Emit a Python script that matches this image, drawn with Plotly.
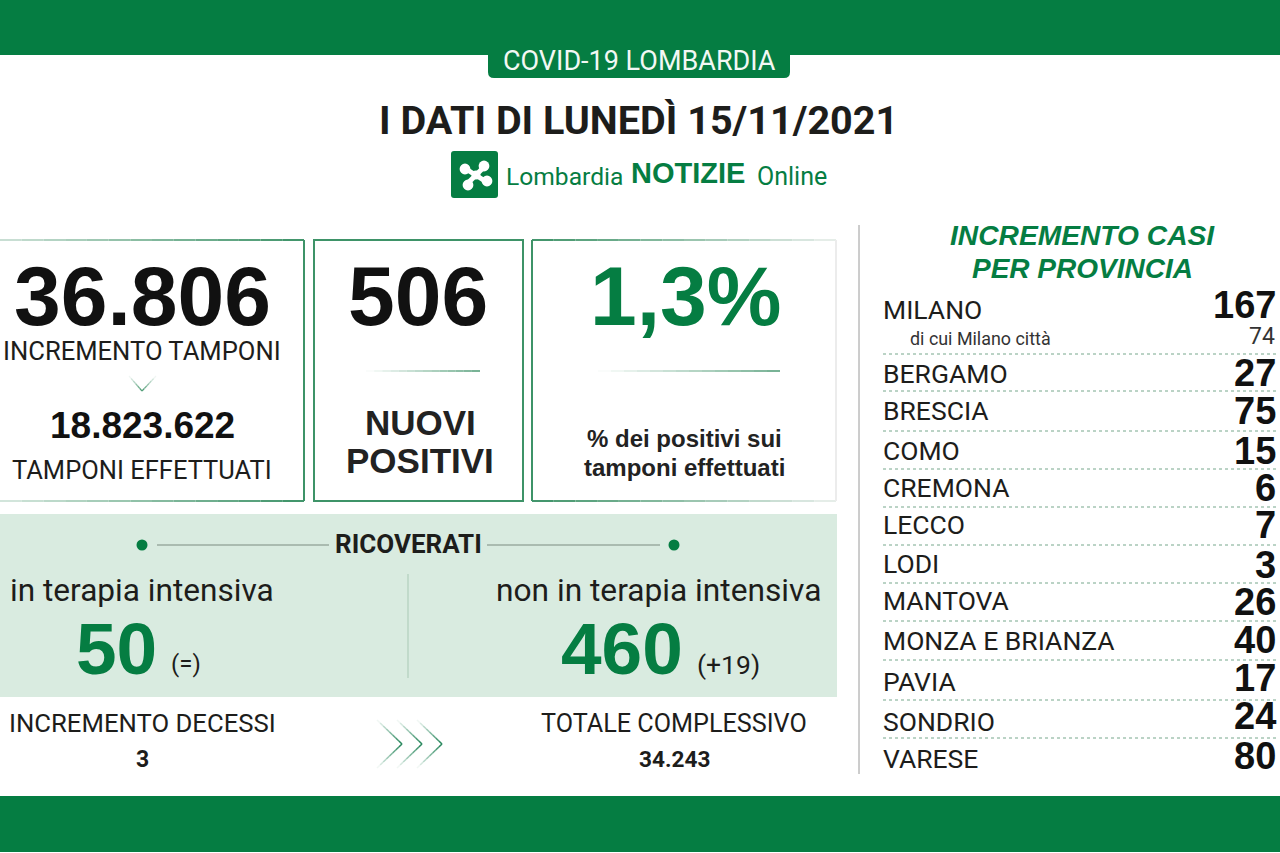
import plotly.graph_objects as go

GREEN = "#057d42"
TXT = "#1d1d1b"
PALE = "#d9ebe0"
SANS = "Liberation Sans"
NARROW = "Roboto"

# ---- data ----
provinces = ["MILANO", "BERGAMO", "BRESCIA", "COMO", "CREMONA", "LECCO", "LODI",
             "MANTOVA", "MONZA E BRIANZA", "PAVIA", "SONDRIO", "VARESE"]
province_cases = [167, 27, 75, 15, 6, 7, 3, 26, 40, 17, 24, 80]
milano_city_cases = 74
tamponi_increment = "36.806"
tamponi_total = "18.823.622"
new_positive = "506"
positive_share = "1,3%"
icu = "50"
icu_delta = "(=)"
non_icu = "460"
non_icu_delta = "(+19)"
deaths_increment = "3"
deaths_total = "34.243"

# row layout of the province list (pixel rows in the page)
province_label_y = [309, 373, 410, 450, 487, 524, 563, 600, 640, 681, 721, 758]
province_value_y = [305, 373, 411, 451, 488, 525, 565, 602, 640, 678, 716, 756]
separator_y = [354, 391, 431, 469, 507, 545, 583, 621, 660, 700, 738]

shapes, ann = [], []


def text(x, y, s, size, color=TXT, font=SANS, anchor="center", bold=False, italic=False):
    if bold:
        s = f"<b>{s}</b>"
    if italic:
        s = f"<i>{s}</i>"
    ann.append(dict(x=x, y=y, text=s, showarrow=False, xanchor=anchor, yanchor="middle",
                    xref="x", yref="y", align="center",
                    font=dict(family=font, size=size, color=color)))


def rect(x0, y0, x1, y1, fill=None, line=None, width=0):
    shapes.append(dict(type="rect", x0=x0, y0=y0, x1=x1, y1=y1, xref="x", yref="y",
                       fillcolor=fill or "rgba(0,0,0,0)", layer="below",
                       line=dict(color=line or "rgba(0,0,0,0)", width=width)))


def seg(x0, y0, x1, y1, color, width=1, dash=None):
    shapes.append(dict(type="line", x0=x0, y0=y0, x1=x1, y1=y1, xref="x", yref="y",
                       line=dict(color=color, width=width, dash=dash or "solid")))


def fade(x0, y0, x1, y1, c0, c1, width=1.5, n=14):
    """Line whose colour runs from c0 at its start to c1 at its end."""
    for i in range(n):
        t0, t1, tm = i / n, (i + 1) / n, (i + 0.5) / n
        rgb = [round(a + (b - a) * tm) for a, b in zip(c0, c1)]
        seg(x0 + (x1 - x0) * t0, y0 + (y1 - y0) * t0,
            x0 + (x1 - x0) * t1, y0 + (y1 - y0) * t1,
            f"rgb({rgb[0]},{rgb[1]},{rgb[2]})", width)


def dot(cx, cy, r, color):
    shapes.append(dict(type="circle", x0=cx - r, y0=cy - r, x1=cx + r, y1=cy + r,
                       xref="x", yref="y", fillcolor=color, line=dict(width=0)))


def path(d, fill=None, line=None, width=0):
    shapes.append(dict(type="path", path=d, xref="x", yref="y",
                       fillcolor=fill or "rgba(0,0,0,0)",
                       line=dict(color=line or "rgba(0,0,0,0)", width=width)))


BOX = (62, 147, 104)
RULE = (70, 150, 110)
WHITE = (255, 255, 255)
LIGHT = (235, 240, 237)

# bands
rect(0, 0, 1280, 55, GREEN)
rect(0, 796, 1280, 852, GREEN)
path("M 488 55 L 790 55 L 790 72 Q 790 78 784 78 L 494 78 Q 488 78 488 72 Z", GREEN)
text(639, 61, "COVID-19 LOMBARDIA", 27, "#f2f8f4", NARROW)

# title
text(638, 120, "I DATI DI LUNEDÌ 15/11/2021", 39.6, TXT, NARROW, bold=True)

# logo
path("M 454 151 L 495 151 Q 498 151 498 154 L 498 195 Q 498 198 495 198 L 454 198 "
     "Q 451 198 451 195 L 451 154 Q 451 151 454 151 Z", GREEN)
seg(466, 169, 485, 181, "white", 5)
seg(485, 166, 467, 184, "white", 5)
for cx, cy in [(465, 169), (484, 166), (487, 181), (468, 185)]:
    dot(cx, cy, 5.4, "white")
dot(476, 175, 4.5, "white")
text(504, 176, "Lombardia", 24.6, GREEN, NARROW, anchor="left")
text(629, 173, "NOTIZIE", 29, GREEN, SANS, anchor="left", bold=True)
text(755, 176, "Online", 25, GREEN, NARROW, anchor="left")

# top boxes: first fades out to the left, third fades out to the right
fade(0, 240, 304, 240, (205, 225, 215), BOX, 2)
fade(0, 501, 304, 501, (215, 232, 223), BOX, 2)
seg(304, 240, 304, 501, "#3e9368", 2)
rect(314, 240, 523, 501, None, "#3e9368", 2)
fade(532, 240, 836, 240, BOX, LIGHT, 2)
fade(532, 501, 836, 501, BOX, LIGHT, 2)
seg(532, 240, 532, 501, "#3e9368", 2)
seg(836, 240, 836, 501, "#ececec", 2)

text(142, 296, tamponi_increment, 84, "#111111", SANS, bold=True)
text(142, 351, "INCREMENTO TAMPONI", 25.6, TXT, NARROW)
fade(129, 376, 142, 391, WHITE, RULE, 1.2, 6)
fade(142, 391, 156, 376, RULE, WHITE, 1.2, 6)
text(142, 425, tamponi_total, 37, "#111111", SANS, bold=True)
text(142, 470, "TAMPONI EFFETTUATI", 25.5, TXT, NARROW)

text(418, 296, new_positive, 84, "#111111", SANS, bold=True)
fade(366, 371, 480, 371, WHITE, RULE, 1.5)
text(420, 422, "NUOVI", 35, "#222222", SANS, bold=True)
text(420, 460, "POSITIVI", 35, "#222222", SANS, bold=True)

text(685, 296, positive_share, 84, GREEN, SANS, bold=True)
fade(598, 371, 780, 371, WHITE, RULE, 1.5)
text(684, 438, "% dei positivi sui", 24, "#222222", SANS, bold=True)
text(684, 467, "tamponi effettuati", 24, "#222222", SANS, bold=True)

# ricoverati panel
rect(0, 514, 837, 697, PALE)
dot(142, 545, 5.5, GREEN)
dot(674, 545, 5.5, GREEN)
seg(157, 545, 329, 545, "#9aaba0", 1.5)
seg(487, 545, 660, 545, "#9aaba0", 1.5)
text(408, 544, "RICOVERATI", 26, TXT, NARROW, bold=True)
seg(408, 574, 408, 678, "#a9c9b5", 1)
text(142, 590, "in terapia intensiva", 31.6, TXT, NARROW)
text(658, 590, "non in terapia intensiva", 31.7, TXT, NARROW)
text(116, 648, icu, 73, GREEN, SANS, bold=True)
text(186, 664, icu_delta, 24, TXT, NARROW)
text(622, 648, non_icu, 73, GREEN, SANS, bold=True)
text(728, 664, non_icu_delta, 26.5, TXT, NARROW)

# footer row
text(142, 723, "INCREMENTO DECESSI", 25.7, TXT, NARROW)
text(142, 759, deaths_increment, 23, TXT, NARROW, bold=True)
text(674, 723, "TOTALE COMPLESSIVO", 25.2, TXT, NARROW)
text(674, 759, deaths_total, 22.6, TXT, NARROW, bold=True)
for tip in (402, 422, 442):
    fade(tip - 25, 720, tip, 744, WHITE, (30, 130, 85), 1.6, 8)
    fade(tip, 744, tip - 25, 768, (30, 130, 85), WHITE, 1.6, 8)

# province column
seg(859, 225, 859, 774, "#9a9a9a", 1)
text(1082, 235, "INCREMENTO CASI", 28.2, GREEN, SANS, bold=True, italic=True)
text(1082, 268, "PER PROVINCIA", 28, GREEN, SANS, bold=True, italic=True)
for name, val, ly, vy in zip(provinces, province_cases, province_label_y, province_value_y):
    text(881, ly, name, 26.5, TXT, NARROW, anchor="left")
    text(1278, vy, str(val), 38, "#111111", SANS, anchor="right", bold=True)
text(908, 338, "di cui Milano città", 17.9, "#333333", NARROW, anchor="left")
text(1277, 336, str(milano_city_cases), 23, "#333333", NARROW, anchor="right")
for y in separator_y:
    seg(883, y, 1278, y, "#76a78c", 1, "dot")

fig = go.Figure()
fig.update_layout(
    width=1280, height=853, autosize=False,
    margin=dict(l=0, r=0, t=0, b=0),
    paper_bgcolor="white", plot_bgcolor="white",
    xaxis=dict(range=[0, 1280], visible=False, fixedrange=True),
    yaxis=dict(range=[853, 0], visible=False, fixedrange=True),
    shapes=shapes, annotations=ann, showlegend=False,
)
fig.write_html("out.html", config={"displayModeBar": False},
               post_script="document.body.style.margin='0';document.body.style.overflow='hidden';")
